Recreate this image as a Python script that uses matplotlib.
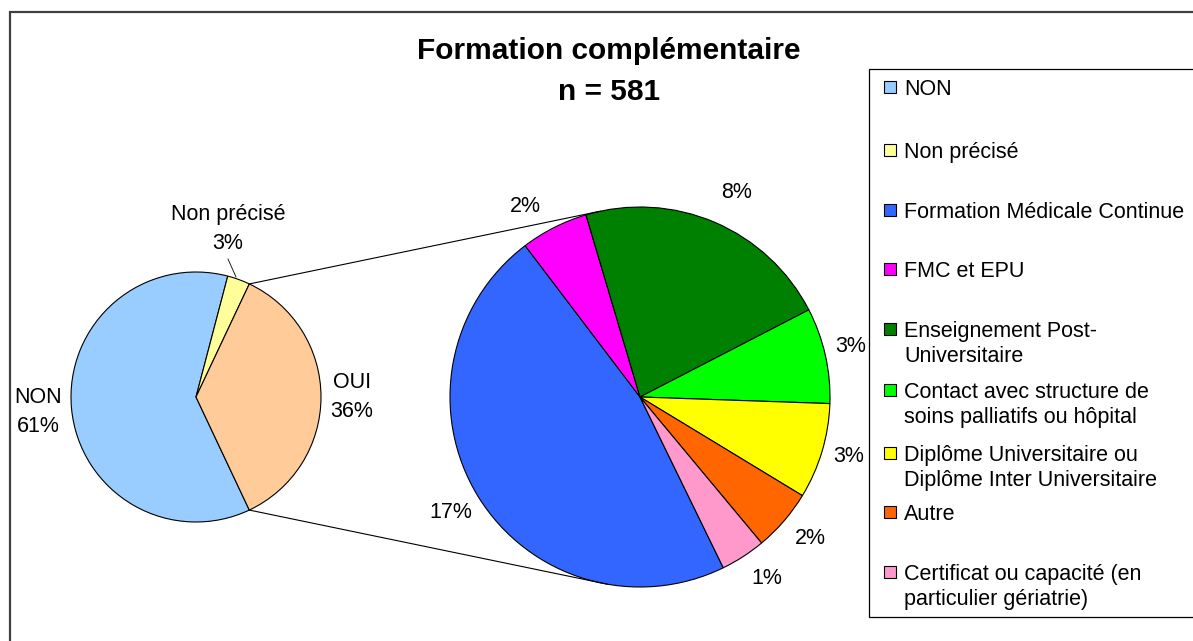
import matplotlib
matplotlib.use("Agg")
import matplotlib.pyplot as plt
from matplotlib.patches import Rectangle
import numpy as np

plt.rcParams['font.family'] = ['Liberation Sans', 'DejaVu Sans']

# ---------------- data ----------------
title = "Formation complémentaire"
n_total = 581

main_labels = ["NON", "Non précisé", "OUI"]
main_counts = [355, 17, 209]
main_colors = ["#99CCFF", "#FFFF99", "#FFCC99"]

sub_labels = ["Formation Médicale Continue", "FMC et EPU",
              "Enseignement Post-\nUniversitaire",
              "Contact avec structure de\nsoins palliatifs ou hôpital",
              "Diplôme Universitaire ou\nDiplôme Inter Universitaire",
              "Autre",
              "Certificat ou capacité (en\nparticulier gériatrie)"]
sub_counts = [98, 12, 46, 17, 17, 11, 8]
sub_colors = ["#3366FF", "#FF00FF", "#008000", "#00FF00", "#FFFF00", "#FF6600", "#FF99CC"]

# ---------------- layout ----------------
W, H = 1193, 641
FS = 15.5
fig = plt.figure(figsize=(W / 100, H / 100), dpi=100)
ax = fig.add_axes([0, 0, 1, 1])

def Y(y):
    return H - y

# left pie
c1 = (196, 397)
r1 = 125
oui_deg = main_counts[2] / sum(main_counts) * 360
wp = dict(edgecolor='black', linewidth=0.8)
ax.pie(main_counts, colors=main_colors, startangle=360 - oui_deg / 2,
       counterclock=False, center=(c1[0], Y(c1[1])), radius=r1,
       wedgeprops=wp, frame=True)

# right pie
c2 = (640, 397)
r2 = 190
ax.pie(sub_counts, colors=sub_colors, startangle=296, counterclock=False,
       center=(c2[0], Y(c2[1])), radius=r2, wedgeprops=wp, frame=True)

# connector lines
for a_left, a_right in [(oui_deg / 2, 102), (-oui_deg / 2, 260)]:
    x0 = c1[0] + r1 * np.cos(np.radians(a_left))
    y0 = Y(c1[1]) + r1 * np.sin(np.radians(a_left))
    x1 = c2[0] + r2 * np.cos(np.radians(a_right))
    y1 = Y(c2[1]) + r2 * np.sin(np.radians(a_right))
    ax.plot([x0, x1], [y0, y1], color='black', lw=0.8)

def pct(v):
    return f"{round(v / n_total * 100):d}%"

# left labels
main_pos = [(38, 412), (228, 229), (352, 397)]
for lab, v, (x, y) in zip(main_labels, main_counts, main_pos):
    ax.text(x, Y(y), f"{lab}\n{pct(v)}", ha='center', va='center', fontsize=FS,
            linespacing=1.45)
ax.plot([228, 236], [Y(259), Y(277)], color='black', lw=0.6)

# right labels
sub_pos = [(451, 512), (525, 207), (737, 193), (851, 347), (849, 456), (810, 538), (767, 578)]
for v, (x, y) in zip(sub_counts, sub_pos):
    ax.text(x, Y(y), pct(v), ha='center', va='center', fontsize=FS)

# title
ax.text(609, Y(51), title, ha='center', va='center', fontsize=21.5, fontweight='bold')
ax.text(609, Y(92), f"n = {n_total}", ha='center', va='center', fontsize=21.5, fontweight='bold')

# legend (manual, Excel-like spacing)
ax.add_patch(Rectangle((869, Y(617)), 400, 617 - 69, facecolor='white',
                       edgecolor='black', lw=0.9))
leg_labels = main_labels[:2] + sub_labels
leg_colors = main_colors[:2] + sub_colors
leg_y = [87, 150, 210, 269, 329, 390, 453, 512, 572]
for lab, col, y in zip(leg_labels, leg_colors, leg_y):
    ax.add_patch(Rectangle((884, Y(y) - 6), 12, 12, facecolor=col,
                           edgecolor='black', lw=0.8))
    ax.text(904, Y(y) + 8, lab, ha='left', va='top', fontsize=FS, linespacing=1.25)

# figure border
ax.plot([9.5, 9.5, W + 5], [-5, Y(11.5), Y(11.5)], color='#404040', lw=1.6,
        solid_joinstyle='miter')

ax.set_xlim(0, W)
ax.set_ylim(0, H)
ax.set_aspect('equal')
ax.axis('off')

fig.savefig("out.png", dpi=100)
